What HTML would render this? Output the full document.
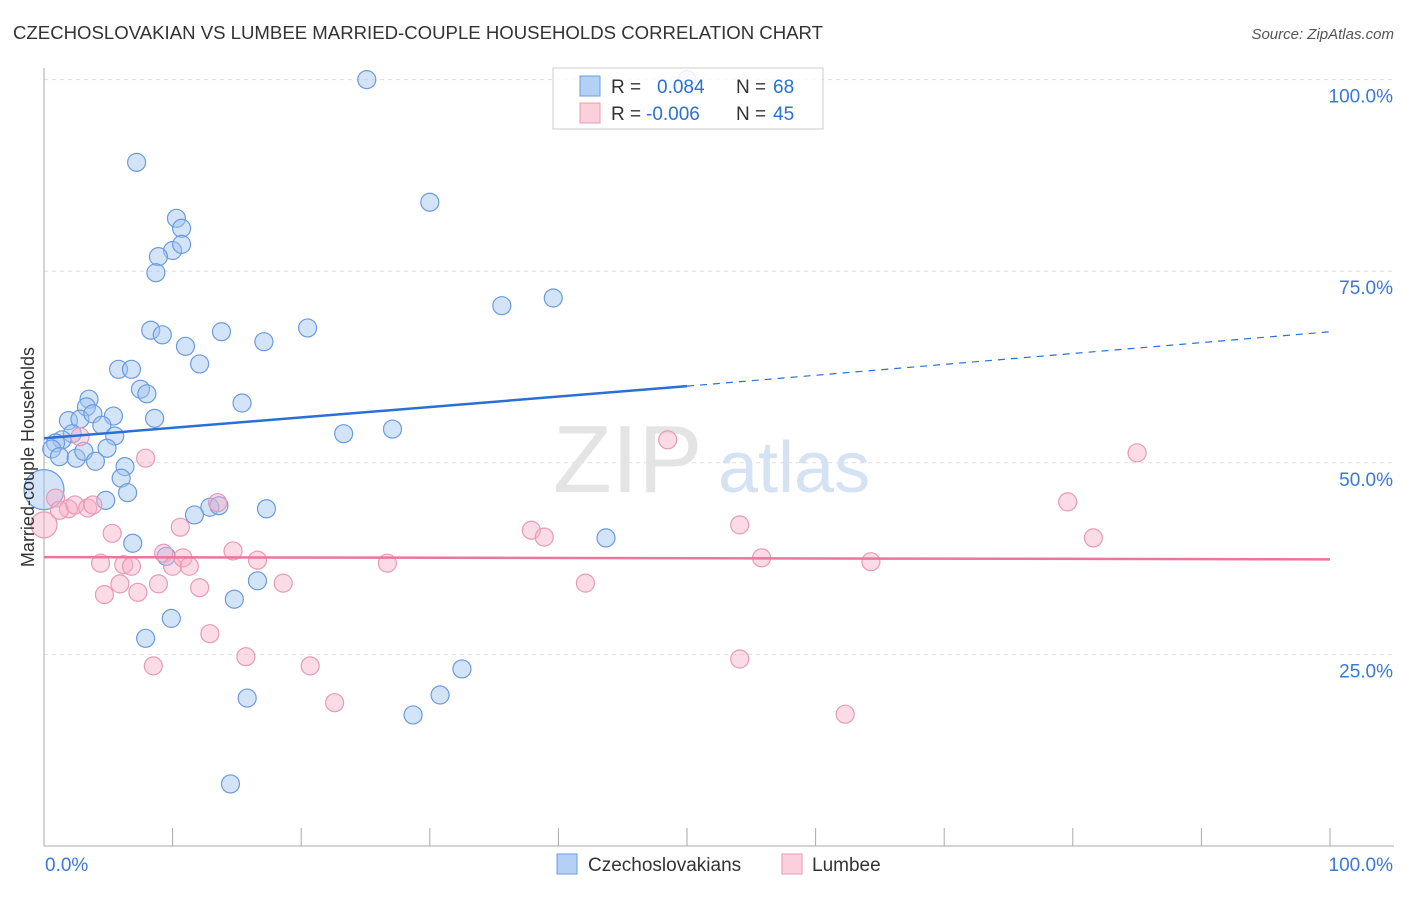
<!DOCTYPE html>
<html><head><meta charset="utf-8"><style>
body{margin:0;background:#fff;font-family:"Liberation Sans",sans-serif;}
svg text{font-family:"Liberation Sans",sans-serif;}
</style></head><body>
<svg id="chart" width="1406" height="892" xmlns="http://www.w3.org/2000/svg">
<text x="13" y="39" font-size="18.6" fill="#333">CZECHOSLOVAKIAN VS LUMBEE MARRIED-COUPLE HOUSEHOLDS CORRELATION CHART</text>
<text x="1394" y="39" font-size="15" fill="#555" text-anchor="end" font-style="italic">Source: ZipAtlas.com</text>
<g id="grid"></g>
<text x="553" y="492" font-size="96" fill="#e4e4e4" font-family="Liberation Serif">ZIP</text>
<text x="718" y="492" font-size="72" fill="#d4e2f4">atlas</text>
<g id="marks"></g>
<text transform="translate(34,457) rotate(-90)" font-size="18" fill="#333" text-anchor="middle">Married-couple Households</text>
<g>
<rect x="553" y="68" width="270" height="61" fill="#fff" fill-opacity="0.85" stroke="#ccc"/>
<rect x="580" y="76" width="20" height="20" fill="#b5d0f5" stroke="#6a9be0"/>
<rect x="580" y="103" width="20" height="20" fill="#fbcfdc" stroke="#e89ab4"/>
<text x="611" y="93" font-size="19" fill="#333">R =</text>
<text x="657" y="93" font-size="19" fill="#2a6fd6">0.084</text>
<text x="736" y="93" font-size="19" fill="#333">N =</text>
<text x="773" y="93" font-size="19" fill="#2a6fd6">68</text>
<text x="611" y="120" font-size="19" fill="#333">R =</text>
<text x="646" y="120" font-size="19" fill="#2a6fd6">-0.006</text>
<text x="736" y="120" font-size="19" fill="#333">N =</text>
<text x="773" y="120" font-size="19" fill="#2a6fd6">45</text>
</g>
<g>
<rect x="557" y="854" width="20" height="20" fill="#b5d0f5" stroke="#6a9be0"/>
<text x="588" y="871" font-size="19" fill="#333">Czechoslovakians</text>
<rect x="782" y="854" width="20" height="20" fill="#fbcfdc" stroke="#e89ab4"/>
<text x="812" y="871" font-size="19" fill="#333">Lumbee</text>
</g>
</svg>
<script>
const yTicks=[25,50,75,100];
const yTickLabels=["25.0%","50.0%","75.0%","100.0%"];
const xTicks=[0,10,20,30,40,50,60,70,80,90,100];
const blueX=[25.1,7.2,30.0,10.3,10.7,10.0,10.7,8.9,8.7,35.6,39.6,8.3,9.2,13.8,20.5,17.1,11.0,5.8,6.8,12.1,7.5,8.0,3.5,3.3,15.4,8.6,1.9,5.4,2.8,3.8,4.5,5.5,2.2,1.4,0.9,0.6,1.2,2.5,3.1,4.9,4.0,6.3,23.3,27.1,6.0,6.5,4.8,12.9,13.6,11.7,17.3,43.7,6.9,9.5,16.6,14.8,9.9,7.9,32.5,30.8,15.8,28.7,14.5,50.0];
const blueY=[100,89.2,84.0,81.9,80.6,77.7,78.5,76.9,74.8,70.5,71.5,67.3,66.7,67.1,67.6,65.8,65.2,62.2,62.2,62.9,59.6,59.0,58.3,57.3,57.8,55.8,55.5,56.1,55.7,56.4,54.9,53.5,53.8,53.0,52.6,51.8,50.8,50.6,51.5,51.9,50.2,49.5,53.8,54.4,48.0,46.1,45.1,44.2,44.4,43.2,44.0,40.2,39.5,37.8,34.6,32.2,29.7,27.1,23.1,19.7,19.3,17.1,8.1,100];
const pinkX=[2.8,0.9,1.9,1.2,2.4,3.4,3.8,7.9,5.3,4.4,6.2,6.8,4.7,5.9,7.3,8.9,9.3,10.0,10.6,10.8,11.3,12.1,13.5,14.7,16.6,18.6,12.9,15.7,8.5,20.7,22.6,26.7,37.9,38.9,42.1,48.5,54.1,55.8,54.1,64.3,62.3,79.6,81.6,85.0];
const pinkY=[53.4,45.4,44.0,43.8,44.5,44.1,44.5,50.6,40.8,36.9,36.7,36.5,32.8,34.2,33.1,34.2,38.2,36.5,41.6,37.6,36.5,33.7,44.8,38.5,37.3,34.3,27.7,24.7,23.5,23.5,18.7,36.9,41.2,40.3,34.3,53.0,41.9,37.6,24.4,37.1,17.2,44.9,40.2,51.3];
const bigBlue=[0,46.5];
const bigPink=[0,41.9];
const blueTrendY=[53.2,60.0,67.1]; // at x=0,50,100
const pinkTrendY=[37.7,37.4]; // at x=0,100

const NS="http://www.w3.org/2000/svg";
const X=v=>44+v*12.86;
const Y=v=>846-v*7.664;
const grid=document.getElementById('grid');
const marks=document.getElementById('marks');
function mk(tag,attrs,parent){const e=document.createElementNS(NS,tag);for(const k in attrs)e.setAttribute(k,attrs[k]);parent.appendChild(e);return e;}

yTicks.forEach((t,i)=>{
  const l=mk('line',{x1:44,x2:1394,y1:Y(t),y2:Y(t),stroke:'#ddd','stroke-dasharray':'4,4'},grid);
  
  
  const tx=mk('text',{x:1393,y:Y(t)+23,'font-size':19,fill:'#3a78d8','text-anchor':'end'},grid);
  tx.textContent=yTickLabels[i];
  
  
});
const ax=mk('line',{x1:44,x2:44,y1:68,y2:846,stroke:'#aaa'},grid);


const bx=mk('line',{x1:44,x2:1394,y1:846,y2:846,stroke:'#aaa'},grid);


xTicks.forEach(t=>{
  const l=mk('line',{x1:X(t),x2:X(t),y1:828,y2:846,stroke:'#aaa'},grid);
  
  
});
const x0=mk('text',{x:45,y:871,'font-size':19,fill:'#3a78d8'},grid);x0.textContent='0.0%';


const x1=mk('text',{x:1393,y:871,'font-size':19,fill:'#3a78d8','text-anchor':'end'},grid);x1.textContent='100.0%';



function dot(x,y,r,fill,stroke,name){
  const c=mk('circle',{cx:X(x),cy:Y(y),r:r,fill:fill,stroke:stroke,'stroke-width':1.2},marks);
  
  
}
const bf='rgba(160,196,240,0.45)',bs='#6a9be0',pf='rgba(246,176,200,0.45)',ps='#e89ab4';
dot(bigBlue[0],bigBlue[1],20,bf,bs,'czechoslovakian-point');
dot(bigPink[0],bigPink[1],13,pf,ps,'lumbee-point');
blueX.forEach((v,i)=>dot(v,blueY[i],9,bf,bs,'czechoslovakian-point'));
pinkX.forEach((v,i)=>dot(v,pinkY[i],9,pf,ps,'lumbee-point'));

const bt=mk('line',{x1:X(0),y1:Y(blueTrendY[0]),x2:X(50),y2:Y(blueTrendY[1]),stroke:'#2a6fd6','stroke-width':2.5},marks);


const bd=mk('line',{x1:X(50),y1:Y(blueTrendY[1]),x2:X(100),y2:Y(blueTrendY[2]),stroke:'#2a6fd6','stroke-width':1.2,'stroke-dasharray':'7,6'},marks);


const pt=mk('line',{x1:X(0),y1:Y(pinkTrendY[0]),x2:X(100),y2:Y(pinkTrendY[1]),stroke:'#e8779c','stroke-width':2.5},marks);


</script>
</body></html>
